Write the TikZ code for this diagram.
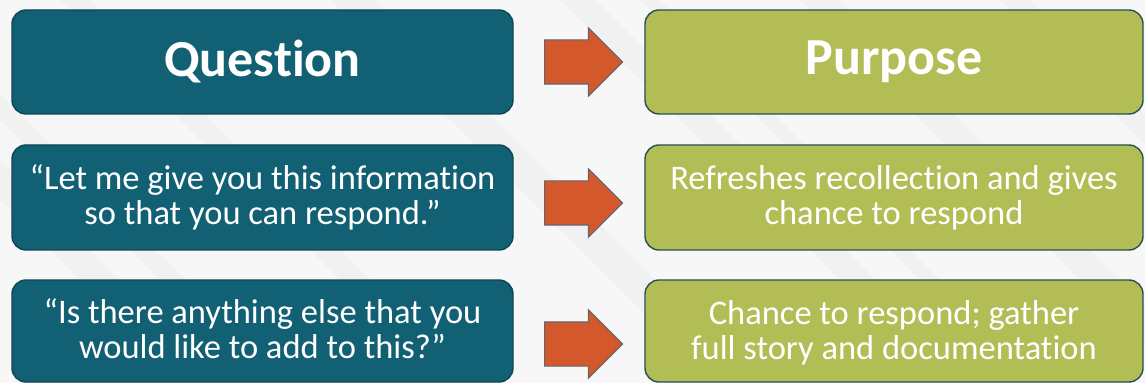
\documentclass[tikz,border=0pt]{standalone}
\usepackage{fontspec}
\setmainfont{Carlito}[Ligatures=NoCommon]
\usetikzlibrary{shapes.arrows}
\definecolor{tealQ}{RGB}{18,96,116}
\definecolor{tealEdge}{RGB}{14,70,86}
\definecolor{oliveP}{RGB}{179,189,85}
\definecolor{oliveEdge}{RGB}{38,82,84}
\definecolor{orangeA}{RGB}{211,89,44}
\definecolor{arrEdge}{RGB}{100,100,112}
\colorlet{BgGrey}{black!3}
\colorlet{BandGrey}{black!7}

\begin{document}
\begin{tikzpicture}[
    x=1pt,y=1pt,
    box/.style={rounded corners=14pt,line width=1.4pt,text=white,align=center,inner sep=0pt},
    qbox/.style={box,fill=tealQ,draw=tealEdge,minimum width=501pt},
    pbox/.style={box,fill=oliveP,draw=oliveEdge,minimum width=498pt},
    head/.style={font=\fontsize{52}{56}\selectfont\bfseries},
    body/.style={font=\fontsize{34.5}{35}\selectfont,text height=59pt,text depth=#1},
    arr/.style={single arrow,single arrow head extend=12pt,minimum height=78pt,anchor=tail,
      inner xsep=0pt,inner ysep=21.5pt,fill=orangeA,draw=arrEdge,line width=1.1pt}
  ]
  \useasboundingbox (0,0) rectangle (1145,383);

  % light backdrop with faint diagonal bands
  \fill[BgGrey] (0,0) rectangle (1145,383);
  \begin{scope}
    \clip (0,0) rectangle (1145,383);
    \foreach \s/\w in {-200/40,-120/25,60/30,330/45,560/35,640/20,800/40,1000/30}{
      \fill[BandGrey,opacity=0.6] (\s,383) -- ++(\w,0) -- ++(383,-383) -- ++(-\w,0) -- cycle;
    }
  \end{scope}

  % header row
  \node[qbox,head,minimum height=104pt] (q1) at (262.5,321) {Question};
  \node[pbox,head,minimum height=104pt] (p1) at (894,321) {Purpose};

  % question / purpose pairs
  \node[qbox,body=5pt,minimum height=105pt] (q2) at (262.5,185.5)
    {“Let me give you this information\\so that you can respond.”};
  \node[pbox,body=5pt,minimum height=105pt] (p2) at (894,185.5)
    {Refreshes recollection and gives\\chance to respond};
  \node[qbox,body=5pt,minimum height=102pt] (q3) at (262.5,52)
    {“Is there anything else that you\\would like to add to this?”};
  \node[pbox,body=2pt,minimum height=102pt] (p3) at (894,52)
    {Chance to respond; gather\\full story and documentation};

  % block arrows between the columns
  \foreach \y [count=\k] in {321,180,39}{
    \node[arr] (a\k) at (544,\y) {};
  }
\end{tikzpicture}
\end{document}
